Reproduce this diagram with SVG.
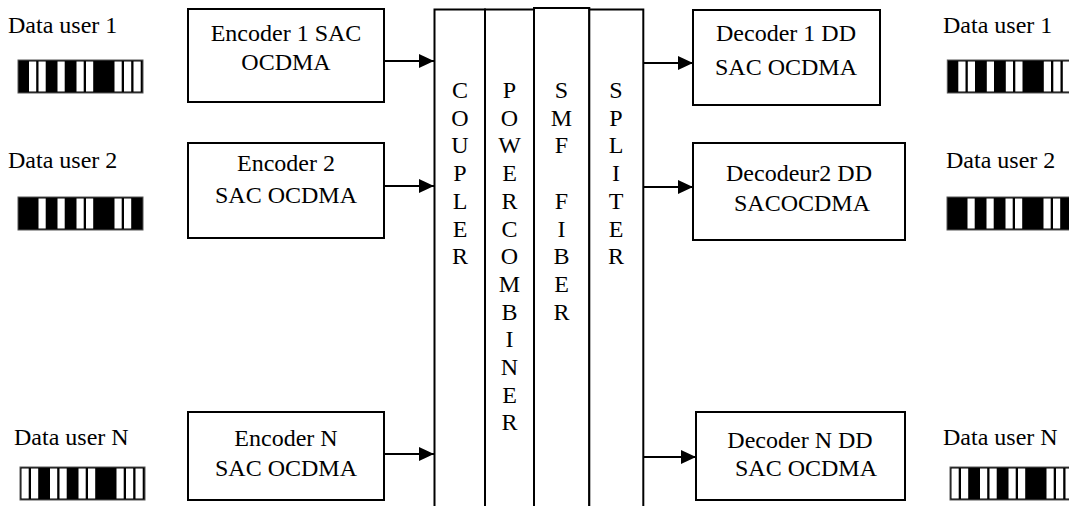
<svg xmlns="http://www.w3.org/2000/svg" width="1069" height="506" viewBox="0 0 1069 506">
  <style>
    text { font-family: 'Liberation Serif', 'Times New Roman', Times, 'DejaVu Serif', serif; font-size: 24px; fill: #000; }
    .c { text-anchor: middle; }
    .box { fill: #fff; stroke: #000; stroke-width: 2; }
    .col { fill: #fff; stroke: #000; stroke-width: 2; }
    .wire { stroke: #000; stroke-width: 2; fill: none; marker-end: url(#arrow); }
    .bar { fill: #000; stroke: #555; stroke-width: 1; }
    .w { fill: #fff; }
  </style>
  <defs>
    <marker id="arrow" viewBox="0 0 15 14" refX="15" refY="7" markerWidth="15" markerHeight="14" markerUnits="userSpaceOnUse" orient="auto">
      <path d="M0,0 L15,7 L0,14 Z" fill="#000"/>
    </marker>
    <!-- barcode patterns: 13 cells, 9.5px pitch, white cells drawn over a black strip -->
    <g id="codeA">
      <rect class="bar" x="0" y="0" width="125" height="33"/>
      <rect class="w" x="11" y="1.5" width="7.2" height="30"/>
      <rect class="w" x="20.5" y="1.5" width="7.2" height="30"/>
      <rect class="w" x="39.5" y="1.5" width="7.2" height="30"/>
      <rect class="w" x="58.5" y="1.5" width="7.2" height="30"/>
      <rect class="w" x="68" y="1.5" width="7.2" height="30"/>
      <rect class="w" x="96.5" y="1.5" width="7.2" height="30"/>
      <rect class="w" x="106" y="1.5" width="7.2" height="30"/>
      <rect class="w" x="115.5" y="1.5" width="7.2" height="30"/>
    </g>
    <g id="codeB">
      <rect class="bar" x="0" y="0" width="125" height="33"/>
      <rect class="w" x="20.5" y="1.5" width="7.2" height="30"/>
      <rect class="w" x="39.5" y="1.5" width="7.2" height="30"/>
      <rect class="w" x="58.5" y="1.5" width="7.2" height="30"/>
      <rect class="w" x="68" y="1.5" width="7.2" height="30"/>
      <rect class="w" x="96.5" y="1.5" width="7.2" height="30"/>
      <rect class="w" x="106" y="1.5" width="7.2" height="30"/>
    </g>
    <g id="codeC">
      <rect class="bar" x="0" y="0" width="125" height="33"/>
      <rect class="w" x="1.5" y="1.5" width="7.2" height="30"/>
      <rect class="w" x="11" y="1.5" width="7.2" height="30"/>
      <rect class="w" x="30" y="1.5" width="7.2" height="30"/>
      <rect class="w" x="39.5" y="1.5" width="7.2" height="30"/>
      <rect class="w" x="58.5" y="1.5" width="7.2" height="30"/>
      <rect class="w" x="68" y="1.5" width="7.2" height="30"/>
      <rect class="w" x="96.5" y="1.5" width="7.2" height="30"/>
      <rect class="w" x="106" y="1.5" width="7.2" height="30"/>
      <rect class="w" x="115.5" y="1.5" width="7.2" height="30"/>
    </g>
  </defs>

  <rect width="1069" height="506" fill="#fff"/>

  <!-- input data users -->
  <g id="user1-in">
    <text x="8" y="33">Data user 1</text>
    <use href="#codeA" x="18" y="60"/>
  </g>
  <g id="user2-in">
    <text x="8" y="168">Data user 2</text>
    <use href="#codeB" x="18" y="197"/>
  </g>
  <g id="userN-in">
    <text x="14" y="445">Data user N</text>
    <use href="#codeC" x="20" y="467"/>
  </g>

  <!-- encoders -->
  <g id="encoder1">
    <rect class="box" x="188" y="9" width="196" height="93"/>
    <text class="c" x="286" y="41">Encoder 1 SAC</text>
    <text class="c" x="286" y="70">OCDMA</text>
  </g>
  <g id="encoder2">
    <rect class="box" x="188" y="143" width="196" height="95"/>
    <text class="c" x="286" y="171">Encoder 2</text>
    <text class="c" x="286" y="203">SAC OCDMA</text>
  </g>
  <g id="encoderN">
    <rect class="box" x="188" y="412" width="196" height="88"/>
    <text class="c" x="286" y="446">Encoder N</text>
    <text class="c" x="286" y="476">SAC OCDMA</text>
  </g>

  <!-- shared channel columns -->
  <g id="coupler">
    <rect class="col" x="434.5" y="9.5" width="50.5" height="510"/>
    <text class="c" x="460" y="98">C</text>
    <text class="c" x="460" y="125.7">O</text>
    <text class="c" x="460" y="153.4">U</text>
    <text class="c" x="460" y="181.1">P</text>
    <text class="c" x="460" y="208.8">L</text>
    <text class="c" x="460" y="236.5">E</text>
    <text class="c" x="460" y="264.2">R</text>
  </g>
  <g id="power-combiner">
    <rect class="col" x="485" y="9.5" width="49" height="510"/>
    <text class="c" x="509.5" y="98">P</text>
    <text class="c" x="509.5" y="125.7">O</text>
    <text class="c" x="509.5" y="153.4">W</text>
    <text class="c" x="509.5" y="181.1">E</text>
    <text class="c" x="509.5" y="208.8">R</text>
    <text class="c" x="509.5" y="236.5">C</text>
    <text class="c" x="509.5" y="264.2">O</text>
    <text class="c" x="509.5" y="291.9">M</text>
    <text class="c" x="509.5" y="319.6">B</text>
    <text class="c" x="509.5" y="347.3">I</text>
    <text class="c" x="509.5" y="375">N</text>
    <text class="c" x="509.5" y="402.7">E</text>
    <text class="c" x="509.5" y="430.4">R</text>
  </g>
  <g id="smf-fiber">
    <rect class="col" x="534" y="8" width="55.3" height="510"/>
    <text class="c" x="561.5" y="98">S</text>
    <text class="c" x="561.5" y="125.7">M</text>
    <text class="c" x="561.5" y="153.4">F</text>
    <text class="c" x="561.5" y="208.8">F</text>
    <text class="c" x="561.5" y="236.5">I</text>
    <text class="c" x="561.5" y="264.2">B</text>
    <text class="c" x="561.5" y="291.9">E</text>
    <text class="c" x="561.5" y="319.6">R</text>
  </g>
  <g id="splitter">
    <rect class="col" x="589.3" y="9.5" width="54" height="510"/>
    <text class="c" x="616" y="98">S</text>
    <text class="c" x="616" y="125.7">P</text>
    <text class="c" x="616" y="153.4">L</text>
    <text class="c" x="616" y="181.1">I</text>
    <text class="c" x="616" y="208.8">T</text>
    <text class="c" x="616" y="236.5">E</text>
    <text class="c" x="616" y="264.2">R</text>
  </g>

  <!-- decoders -->
  <g id="decoder1">
    <rect class="box" x="693" y="10" width="187" height="95"/>
    <text class="c" x="786" y="41">Decoder 1 DD</text>
    <text class="c" x="786" y="75">SAC OCDMA</text>
  </g>
  <g id="decoder2">
    <rect class="box" x="693" y="143" width="212" height="97"/>
    <text class="c" x="799" y="181">Decodeur2 DD</text>
    <text class="c" x="802" y="211">SACOCDMA</text>
  </g>
  <g id="decoderN">
    <rect class="box" x="696" y="412" width="209" height="88"/>
    <text class="c" x="800" y="448">Decoder N DD</text>
    <text class="c" x="806" y="476">SAC OCDMA</text>
  </g>

  <!-- output data users -->
  <g id="user1-out">
    <text x="943" y="33">Data user 1</text>
    <use href="#codeA" x="947.3" y="60"/>
  </g>
  <g id="user2-out">
    <text x="946" y="168">Data user 2</text>
    <use href="#codeB" x="947" y="197"/>
  </g>
  <g id="userN-out">
    <text x="943" y="445">Data user N</text>
    <use href="#codeC" x="950" y="467"/>
  </g>

  <!-- connectors -->
  <g id="connectors">
    <line class="wire" x1="384" y1="61" x2="434" y2="61"/>
    <line class="wire" x1="384" y1="186" x2="434" y2="186"/>
    <line class="wire" x1="384" y1="454" x2="434" y2="454"/>
    <line class="wire" x1="643" y1="63" x2="693" y2="63"/>
    <line class="wire" x1="643" y1="187" x2="693" y2="187"/>
    <line class="wire" x1="643" y1="457" x2="696" y2="457"/>
  </g>
</svg>
